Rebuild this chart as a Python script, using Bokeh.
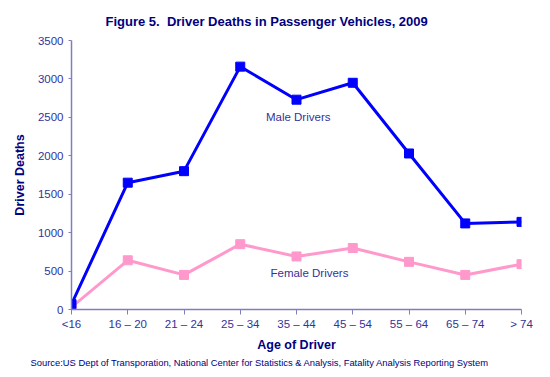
from bokeh.plotting import figure
from bokeh.models import Range1d, FixedTicker, Label, Title
from bokeh.embed import file_html
from bokeh.resources import INLINE

age_groups = ["<16", "16 \u2013 20", "21 \u2013 24", "25 \u2013 34", "35 \u2013 44",
              "45 \u2013 54", "55 \u2013 64", "65 \u2013 74", "> 74"]
male = [70, 1650, 1800, 3160, 2730, 2950, 2030, 1120, 1140]
female = [30, 640, 450, 850, 690, 800, 620, 450, 590]
y_ticks = [0, 500, 1000, 1500, 2000, 2500, 3000, 3500]

xs = list(range(len(age_groups)))
FONT = "Liberation Sans"
NAVY = "#000080"
TICKC = "#333399"
AXC = "#7F7FBF"

p = figure(width=550, height=377, output_backend="svg", toolbar_location=None,
           x_range=Range1d(0, len(age_groups) - 1), y_range=Range1d(0, 3500),
           min_border_left=71, min_border_right=29, min_border_top=40, min_border_bottom=68)
p.outline_line_color = None
p.xgrid.visible = False
p.ygrid.visible = False
p.background_fill_color = "white"

p.title.text = "Figure 5.\u00a0 Driver Deaths in Passenger Vehicles, 2009"
p.title.align = "left"
p.title.text_font = FONT
p.title.text_font_size = "13px"
p.title.text_font_style = "bold"
p.title.text_color = NAVY
p.title.offset = 34
p.title.standoff = 23

p.xaxis.ticker = FixedTicker(ticks=xs)
p.xaxis.major_label_overrides = {i: lab for i, lab in enumerate(age_groups)}
p.yaxis.ticker = FixedTicker(ticks=y_ticks)
for ax in (p.xaxis, p.yaxis):
    ax.axis_line_color = AXC
    ax.axis_line_width = 1.5
    ax.major_tick_line_color = AXC
    ax.major_tick_line_width = 1
    ax.major_tick_in = 0
    ax.major_tick_out = 5
    ax.minor_tick_line_color = None
    ax.major_label_text_font = FONT
    ax.major_label_text_font_size = "11.5px"
    ax.major_label_text_color = TICKC
    ax.axis_label_text_font = FONT
    ax.axis_label_text_font_size = "12.5px"
    ax.axis_label_text_font_style = "bold"
    ax.axis_label_text_color = NAVY
p.yaxis.major_tick_out = 3
p.yaxis.major_label_standoff = 5
p.xaxis.major_label_standoff = 3
p.xaxis.axis_label = "Age of Driver"
p.yaxis.axis_label = "Driver Deaths"
p.xaxis.axis_label_standoff = 5
p.yaxis.axis_label_standoff = 8

p.line(xs, female, line_color="#FF99CC", line_width=3)
p.scatter(xs, female, marker="square", size=9, fill_color="#FF99CC", line_color="#FF99CC")
p.line(xs, male, line_color="#0000FF", line_width=3)
p.scatter(xs, male, marker="square", size=9, fill_color="#0000FF", line_color="#0000FF")

p.add_layout(Label(x=4.03, y=2500, text="Male Drivers", text_font=FONT,
                   text_font_size="11.5px", text_color=TICKC,
                   text_align="center", text_baseline="middle"))
p.add_layout(Label(x=4.23, y=470, text="Female Drivers", text_font=FONT,
                   text_font_size="11.5px", text_color=TICKC,
                   text_align="center", text_baseline="middle"))

src = Title(text="Source:US Dept of Transporation, National Center for Statistics & Analysis, Fatality Analysis Reporting System",
            align="left", text_font=FONT, text_font_size="9.4px",
            text_font_style="normal", text_color=NAVY, offset=-41, standoff=0)
p.add_layout(src, "below")

open("out.html", "w").write(file_html(p, INLINE))
